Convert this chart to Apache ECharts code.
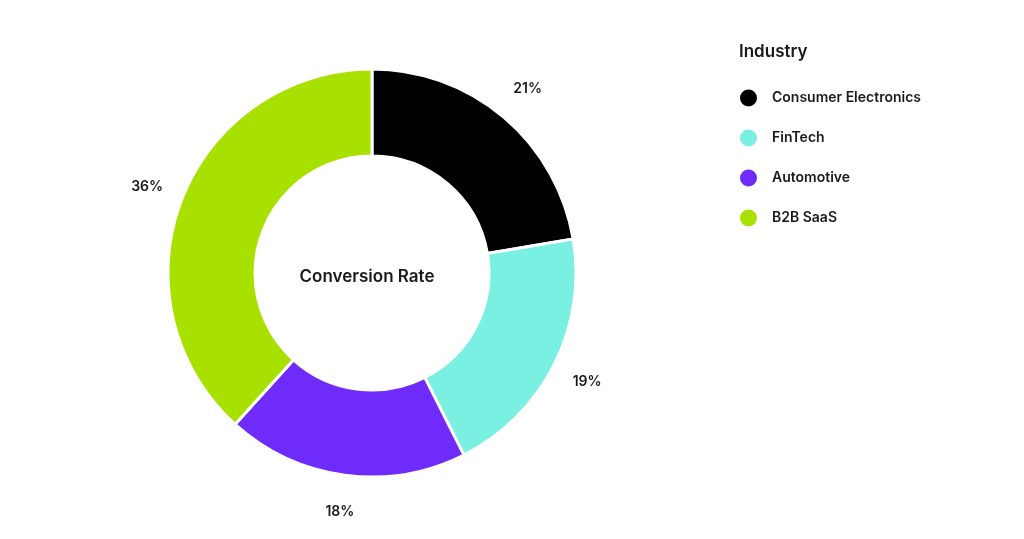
<!DOCTYPE html>
<html>
<head>
<meta charset="utf-8">
<script src="https://cdn.jsdelivr.net/npm/echarts@6/dist/echarts.min.js"></script>
<style>
html,body{margin:0;padding:0;background:#fff;}
#chart{width:1024px;height:539px;}
</style>
</head>
<body>
<div id="chart"></div>
<script>
const categories = ['Consumer Electronics', 'FinTech', 'Automotive', 'B2B SaaS'];
const values = [21, 19, 18, 36];
const colors = ['#000000', '#7AF0E3', '#6F2BF9', '#A8E000'];
const legendTitle = 'Industry';
const centerLabel = 'Conversion Rate';

const FONT = 'Inter, "Noto Sans", sans-serif';
const chart = echarts.init(document.getElementById('chart'));

const pieData = categories.map((c, i) => ({ name: c, value: values[i], itemStyle: { color: colors[i] } }));

chart.setOption({
  animation: false,
  title: [{
    text: legendTitle,
    left: 739, top: 43, padding: 0,
    textStyle: { fontFamily: FONT, fontSize: 17, fontWeight: 600, color: '#1a1a1a' }
  }, {
    text: centerLabel,
    left: 367, top: 277, padding: 0, textAlign: 'center', textVerticalAlign: 'middle',
    textStyle: { fontFamily: FONT, fontSize: 17, fontWeight: 600, color: '#1a1a1a' }
  }],
  legend: {
    orient: 'vertical',
    left: 738, top: 87.5, padding: 0,
    icon: 'circle',
    itemWidth: 19, itemHeight: 19,
    itemGap: 19,
    data: categories,
    textStyle: { fontFamily: FONT, fontSize: 14, fontWeight: 600, color: '#1a1a1a', padding: [0, 0, 0, 9] }
  },
  series: [{
    type: 'pie',
    center: [372, 273],
    radius: [117, 204],
    startAngle: 90,
    clockwise: true,
    avoidLabelOverlap: false,
    itemStyle: { borderColor: '#ffffff', borderWidth: 3 },
    label: { show: false },
    labelLine: { show: false },
    emphasis: { disabled: true },
    data: pieData
  }, {
    type: 'pie',
    center: [372, 273],
    radius: [222, 254],
    startAngle: 90,
    clockwise: true,
    silent: true,
    legendHoverLink: false,
    itemStyle: { color: 'rgba(0,0,0,0)', borderWidth: 0 },
    label: {
      show: true, position: 'inside',
      formatter: p => p.value + '%',
      fontFamily: FONT, fontSize: 14, fontWeight: 600, color: '#1a1a1a'
    },
    labelLine: { show: false },
    emphasis: { disabled: true },
    data: categories.map((c, i) => ({ name: c, value: values[i] }))
  }]
});
</script>
</body>
</html>
